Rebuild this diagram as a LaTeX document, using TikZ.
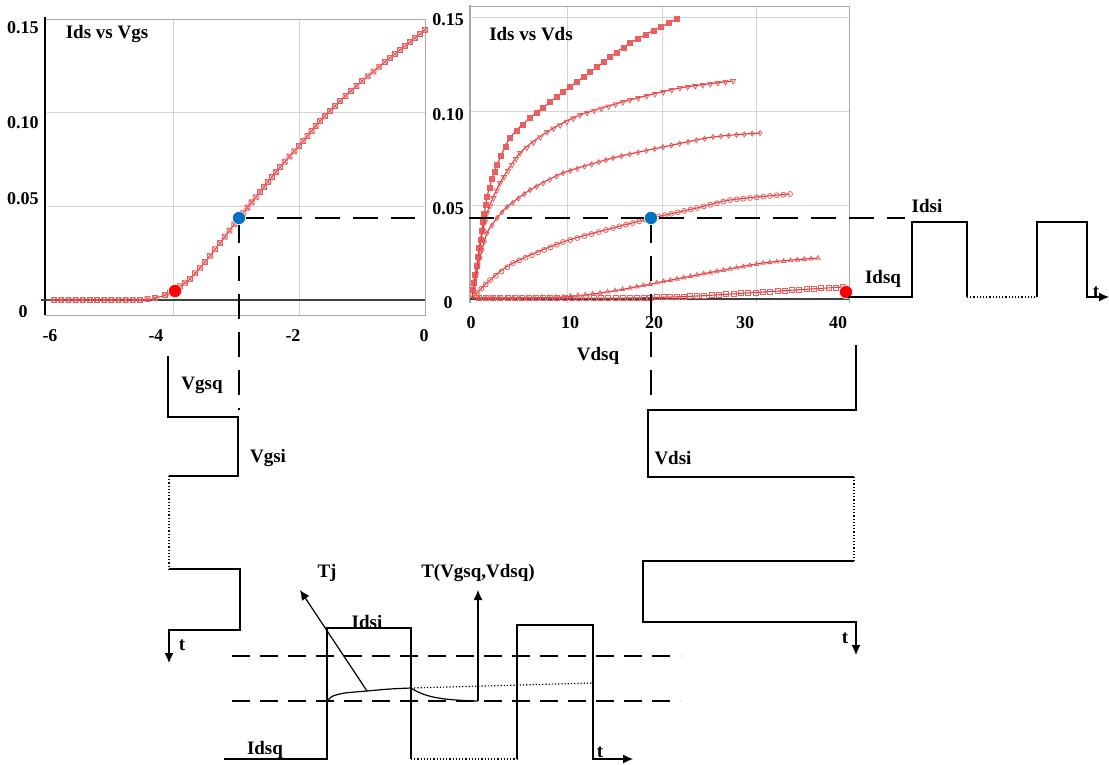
\documentclass[tikz,border=0pt]{standalone}
\usepackage{fontspec}
\setmainfont{Liberation Serif}
\usetikzlibrary{arrows.meta,plotmarks}
\definecolor{curvecol}{RGB}{225,55,55}
\definecolor{markcol}{RGB}{235,95,95}
\definecolor{gridcol}{RGB}{212,212,212}
\definecolor{framecol}{RGB}{170,170,170}
\definecolor{opblue}{RGB}{0,112,192}
\pgfdeclareplotmark{boxx}{%
  \pgfpathrectangle{\pgfqpoint{-\pgfplotmarksize}{-\pgfplotmarksize}}{\pgfqpoint{2\pgfplotmarksize}{2\pgfplotmarksize}}%
  \pgfpathmoveto{\pgfqpoint{-\pgfplotmarksize}{-\pgfplotmarksize}}\pgfpathlineto{\pgfqpoint{\pgfplotmarksize}{\pgfplotmarksize}}%
  \pgfpathmoveto{\pgfqpoint{-\pgfplotmarksize}{\pgfplotmarksize}}\pgfpathlineto{\pgfqpoint{\pgfplotmarksize}{-\pgfplotmarksize}}%
  \pgfusepathqstroke}
\pgfdeclareplotmark{tridown}{%
  \pgfpathmoveto{\pgfqpoint{0pt}{-1.2\pgfplotmarksize}}%
  \pgfpathlineto{\pgfqpoint{1.04\pgfplotmarksize}{0.6\pgfplotmarksize}}%
  \pgfpathlineto{\pgfqpoint{-1.04\pgfplotmarksize}{0.6\pgfplotmarksize}}%
  \pgfpathclose\pgfusepathqstroke}
\tikzset{
  lbl/.style={font=\fontsize{9.5}{11}\selectfont\bfseries, inner sep=0pt},
  ticklbl/.style={font=\fontsize{9}{11}\selectfont\bfseries, inner sep=0pt},
  wave/.style={line width=0.6pt},
  guide/.style={line width=0.8pt, dash pattern=on 12.5pt off 6.5pt},
  level/.style={line width=0.6pt, dash pattern=on 9pt off 5pt},
  tip/.style={-{Latex[length=5pt,width=4.5pt]}},
  curve/.style={curvecol, line width=0.55pt},
  mk/.style={only marks, mark=#1, mark size=1.25pt, mark options={markcol, line width=0.4pt, solid}},
  opdot/.style={circle, inner sep=0pt, minimum size=6.6pt, fill=#1, draw=white, line width=0.3pt}
}
% #1 marker step (px), #2 plot mark, #3 points x/y
\newcommand\plotcurve[3]{%
  \gdef\ptlist{}%
  \foreach \cx/\cy in {#3}{\xdef\ptlist{\ptlist(\cx,\cy)}}%
  \edef\tmp{\noexpand\draw[curve] plot[smooth] coordinates {\ptlist};}\tmp
  \foreach \cx/\cy [remember=\cx as \ox (initially -1), remember=\cy as \oy (initially -1)] in {#3} {%
    \ifdim\ox pt>0pt
      \pgfmathsetmacro\seglen{veclen(\cx-\ox,\cy-\oy)}%
      \pgfmathtruncatemacro\nk{max(1,round(\seglen/#1))}%
      \foreach \k in {1,...,\nk}
        \path plot[mk=#2] coordinates {({\ox+(\cx-\ox)*\k/\nk},{\oy+(\cy-\oy)*\k/\nk})};%
    \fi}}
\begin{document}
\begin{tikzpicture}[x=0.5pt, y=-0.5pt]
\useasboundingbox (0,0) rectangle (1109,765);

% Ids vs Vgs
\foreach \y in {112,206} \draw[gridcol] (47,\y) -- (425,\y);
\foreach \x in {173,299} \draw[gridcol] (\x,19) -- (\x,315);
\draw[framecol] (45,19) -- (425,19) -- (425,315) -- (45,315);
\draw[line width=0.8pt] (45,17) -- (45,315);
\draw[black!75, line width=0.6pt] (41,300) -- (425,300);
\node[lbl] (tvgs) at (107,34) {Ids vs Vgs};
\foreach \lab/\y in {0.15/28,0.10/123,0.05/199} \node[ticklbl] at (23,\y) {\lab};
\node[ticklbl] at (23,312) {0};
\foreach \lab/\x in {-6/50,-4/156,-2/293,0/424} \node[ticklbl] at (\x,336) {\lab};
\plotcurve{7}{boxx}{47/300, 140/300, 155/298, 165/295, 175/290, 190/279, 205/262, 220/243, 239/218, 260/192, 280/167, 299/146, 320/121, 340/101, 362/81, 385/62, 405/46, 425/30}

% Ids vs Vds
\foreach \y in {17,111,205} \draw[gridcol] (471,\y) -- (849,\y);
\foreach \x in {567,662,756} \draw[gridcol] (\x,6) -- (\x,303);
\draw[framecol] (470,6) -- (849,6) -- (849,303);
\draw[framecol, line width=1.4pt] (470,5) -- (470,303);
\draw[black!75, line width=0.6pt] (470,299) -- (849,299);
\node[lbl] (tvds) at (531,34) {Ids vs Vds};
\foreach \lab/\y in {0.15/20,0.10/115,0.05/209} \node[ticklbl] at (448,\y) {\lab};
\node[ticklbl] at (448,303) {0};
\foreach \lab/\x in {0/471,10/570,20/654,30/745,40/838} \node[ticklbl] at (\x,323) {\lab};
\plotcurve{9}{square*}{472/298, 475/275, 478/257, 483/222, 487/197, 492/179, 497/165, 510/138, 530/118, 563/92, 597/67, 630/43, 677/19}
\plotcurve{8}{tridown}{472/298, 474/285, 477/267, 481/240, 487/213, 500/183, 520/153, 547/132, 580/115, 630/100, 680/88, 733/81}
\plotcurve{8}{diamond}{472/298, 475/280, 480/258, 487/233, 497/218, 507/207, 530/190, 563/173, 613/158, 663/147, 713/137, 760/133}
\plotcurve{7}{o}{472/298, 477/293, 490/280, 513/263, 563/242, 613/228, 652/218, 697/208, 730/200, 790/194}
\plotcurve{7}{triangle}{472/298, 520/298, 563/297, 600/293, 630/288, 697/275, 763/263, 818/258}
\plotcurve{7}{square}{472/298, 550/298, 630/298, 697/296, 763/292, 843/287}
\node[lbl] (vdsq) at (598,356) {Vdsq};

% operating points
\coordinate (qgs) at (239,218);
\coordinate (qds) at (651,218);
\coordinate (gsend) at (239,410);
\coordinate (dsend) at (651,400);
\coordinate (gsright) at (415,218);
\coordinate (dsleft) at (469,218);
\coordinate (dsright) at (905,218);
\draw[guide] (qgs) -- (gsright);
\draw[guide] (dsleft) -- (dsright);
\draw[guide] (qgs) -- (gsend);
\draw[guide] (qds) -- (dsend);
\node[opdot=opblue] (bgs) at (qgs) {};
\node[opdot=opblue] (bds) at (qds) {};
\node[opdot=red] (rgs) at (175,291) {};
\node[opdot=red] (rds) at (846,292) {};

% Ids(t), top right
\draw[wave] (848,297) -- (912,297) -- (912,222) -- (967,222) -- (967,297);
\draw[wave, densely dotted] (967,297) -- (1037,297);
\draw[wave, tip] (1037,297) -- (1037,222) -- (1087,222) -- (1087,297) -- (1109,297);
\node[lbl] (idsi1) at (927,206) {Idsi};
\node[lbl] (idsq1) at (883,279) {Idsq};
\node[lbl] (t1) at (1096,292) {t};

% Vgs(t)
\draw[wave] (168,356) -- (168,417) -- (238,417) -- (238,476) -- (169,476);
\draw[wave, densely dotted] (169,476) -- (169,569);
\draw[wave, tip] (169,569) -- (240,569) -- (240,630) -- (169,630) -- (169,663);
\node[lbl] (vgsq) at (202,385) {Vgsq};
\node[lbl] (vgsi) at (268,458) {Vgsi};
\node[lbl] (t2) at (182,645) {t};

% Vds(t)
\draw[wave] (856,345) -- (856,410) -- (648,410) -- (648,477) -- (854,477);
\draw[wave, densely dotted] (854,477) -- (854,561);
\draw[wave, tip] (854,561) -- (643,561) -- (643,622) -- (856,622) -- (856,655);
\node[lbl] (vdsi) at (673,458) {Vdsi};
\node[lbl] (t3) at (845,638) {t};

% Ids(t) and Tj, bottom
\draw[level] (232,656) -- (680,656);
\draw[level] (232,701) -- (680,701);
\draw[wave] (224,759) -- (327,759) -- (327,628) -- (411,628) -- (411,759);
\draw[wave, densely dotted] (411,759) -- (517,759);
\draw[wave, tip] (517,759) -- (517,625) -- (593,625) -- (593,759) -- (633,759);
\draw[line width=0.6pt] plot[smooth] coordinates {(327,701) (333,696) (345,693) (367,691) (390,689) (411,688)};
\draw[line width=0.6pt] (411,688) .. controls (425,697) and (440,700) .. (478,701);
\draw[line width=0.6pt, densely dotted] (411,688) -- (593,683);
\coordinate (tjfoot) at (367,691);
\coordinate (tjhead) at (300,590);
\coordinate (tqfoot) at (478,701);
\coordinate (tqhead) at (478,590);
\draw[wave, tip] (tjfoot) -- (tjhead);
\draw[wave, tip] (tqfoot) -- (tqhead);
\node[lbl] (tj) at (327,573) {Tj};
\node[lbl] (tq) at (478,573) {T(Vgsq,Vdsq)};
\node[lbl] (idsi2) at (367,622) {Idsi};
\node[lbl] (idsq2) at (265,750) {Idsq};
\node[lbl] (t4) at (600,752) {t};
\end{tikzpicture}
\end{document}
